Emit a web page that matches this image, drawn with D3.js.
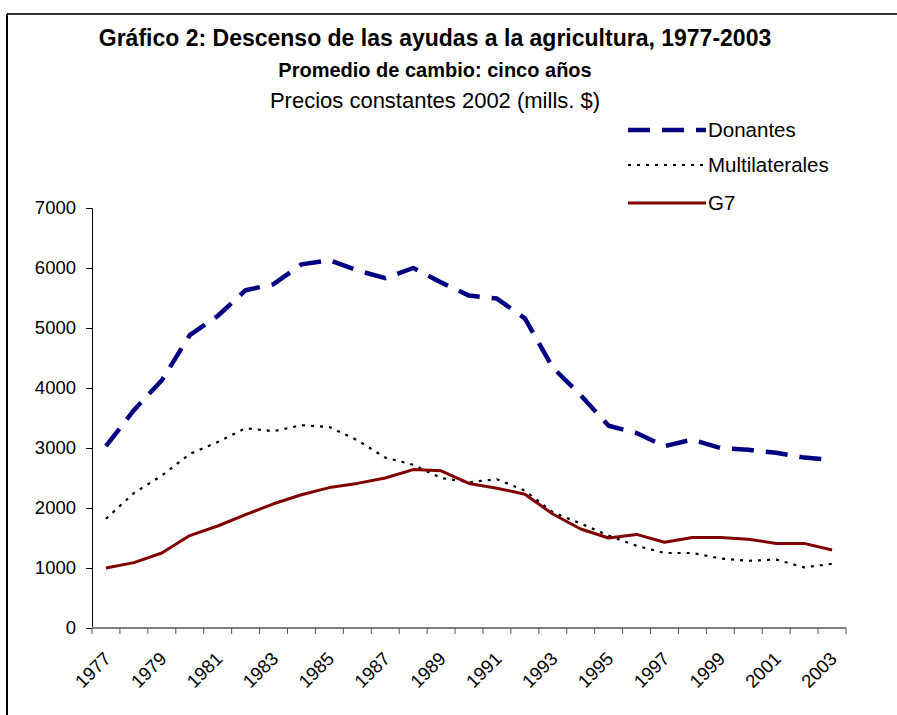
<!DOCTYPE html>
<meta charset="utf-8">
<html>
  <head>
    <title>Descenso de las ayudas a la agricultura</title>
    <style>
      body { margin: 0; background: #fff; }
      text { font-family: "Liberation Sans", Arial, sans-serif; fill: #000; }
      .title { font-weight: bold; font-size: 23px; }
      .title2 { font-weight: bold; font-size: 20px; }
      .subtitle { font-size: 22px; }
      .tick-label { font-size: 18.5px; }
      .legend-label { font-size: 20.5px; }
    </style>
    <script src="https://cdn.jsdelivr.net/npm/d3@7"></script>
  </head>
  <body>
    <div id="chart"></div>
    <script type="text/javascript">
    // data
    var years = d3.range(1977, 2004);
    var donantes = [3030, 3630, 4130, 4880, 5200, 5630, 5730, 6060, 6130, 5960, 5830, 6000, 5760, 5540, 5490, 5160, 4340, 3880, 3370, 3250, 3030, 3140, 3000, 2970, 2920, 2840, 2800];
    var multilaterales = [1820, 2250, 2540, 2900, 3100, 3330, 3280, 3380, 3350, 3130, 2840, 2720, 2500, 2430, 2480, 2290, 1930, 1740, 1540, 1370, 1250, 1250, 1160, 1120, 1140, 1010, 1070];
    var g7 = [1000, 1090, 1250, 1540, 1700, 1890, 2070, 2220, 2340, 2410, 2500, 2640, 2620, 2410, 2330, 2230, 1900, 1650, 1500, 1560, 1430, 1510, 1510, 1480, 1410, 1410, 1300];
    var yTicks = [0, 1000, 2000, 3000, 4000, 5000, 6000, 7000];

    var series = [
      { name: "Donantes", values: donantes, color: "#000080", width: 4.5, dash: "22,12" },
      { name: "Multilaterales", values: multilaterales, color: "#000", width: 2.2, dash: "3,6" },
      { name: "G7", values: g7, color: "#800000", width: 3, dash: null }
    ];

    var W = 897, H = 715;
    var plot = { left: 92, right: 846, top: 208, bottom: 628 };

    var svg = d3.select("#chart").append("svg")
      .attr("width", W)
      .attr("height", H);

    // frame (only top and left edges show)
    svg.append("line")
      .attr("x1", 7).attr("x2", W).attr("y1", 14).attr("y2", 14)
      .attr("stroke", "#333").attr("stroke-width", 2);
    svg.append("line")
      .attr("x1", 7).attr("x2", 7).attr("y1", 14).attr("y2", H)
      .attr("stroke", "#000").attr("stroke-width", 2);

    // titles
    svg.append("text").attr("class", "title")
      .attr("x", 435).attr("y", 46).attr("text-anchor", "middle")
      .text("Gráfico 2: Descenso de las ayudas a la agricultura, 1977-2003");
    svg.append("text").attr("class", "title2")
      .attr("x", 435).attr("y", 77).attr("text-anchor", "middle")
      .text("Promedio de cambio: cinco años");
    svg.append("text").attr("class", "subtitle")
      .attr("x", 435).attr("y", 108).attr("text-anchor", "middle")
      .text("Precios constantes 2002 (mills. $)");

    // scales
    var x = d3.scaleBand()
      .domain(years)
      .range([plot.left, plot.right]);

    var y = d3.scaleLinear()
      .domain([0, 7000])
      .range([plot.bottom, plot.top]);

    // y axis
    var yAxis = svg.append("g")
      .attr("transform", "translate(" + plot.left + ",0)")
      .call(d3.axisLeft(y).tickValues(yTicks).tickSize(6).tickPadding(10).tickFormat(d3.format("d")));
    yAxis.select(".domain").attr("stroke", "#000").attr("stroke-width", 1);
    yAxis.selectAll(".tick line").attr("stroke", "#000");
    yAxis.selectAll("text").attr("class", "tick-label");

    // x axis: ticks on category edges, labels every second year
    var xg = svg.append("g")
      .attr("transform", "translate(0," + plot.bottom + ")");
    xg.append("line")
      .attr("x1", plot.left).attr("x2", plot.right)
      .attr("stroke", "#808080").attr("stroke-width", 2);
    xg.selectAll(".xtick")
      .data(years.concat([2004]))
      .enter()
      .append("line")
      .attr("class", "xtick")
      .attr("x1", function (d) { return d === 2004 ? plot.right : x(d); })
      .attr("x2", function (d) { return d === 2004 ? plot.right : x(d); })
      .attr("y1", 0).attr("y2", 6)
      .attr("stroke", "#555");
    xg.selectAll(".xlabel")
      .data(years.filter(function (d) { return (d - 1977) % 2 === 0; }))
      .enter()
      .append("text")
      .attr("class", "tick-label")
      .attr("text-anchor", "end")
      .attr("transform", function (d) {
        return "translate(" + (x(d) + x.bandwidth() / 2 + 6) + ",32) rotate(-45)";
      })
      .text(function (d) { return d; });

    // lines
    var line = d3.line()
      .x(function (d, i) { return x(years[i]) + x.bandwidth() / 2; })
      .y(function (d) { return y(d); });

    svg.selectAll(".series")
      .data(series)
      .enter()
      .append("path")
      .attr("class", "series")
      .attr("d", function (d) { return line(d.values); })
      .attr("fill", "none")
      .attr("stroke", function (d) { return d.color; })
      .attr("stroke-width", function (d) { return d.width; })
      .attr("stroke-dasharray", function (d) { return d.dash; })
      .attr("stroke-linejoin", "round");

    // legend
    var legend = svg.selectAll(".legend")
      .data(series)
      .enter()
      .append("g")
      .attr("class", "legend")
      .attr("transform", function (d, i) { return "translate(628," + [130, 165, 203][i] + ")"; });

    legend.append("line")
      .attr("x1", 0).attr("x2", 78)
      .attr("stroke", function (d) { return d.color; })
      .attr("stroke-width", function (d) { return d.width; })
      .attr("stroke-dasharray", function (d) { return d.dash; });

    legend.append("text")
      .attr("class", "legend-label")
      .attr("x", 80).attr("y", 7)
      .text(function (d) { return d.name; });

    </script>
  </body>
</html>
